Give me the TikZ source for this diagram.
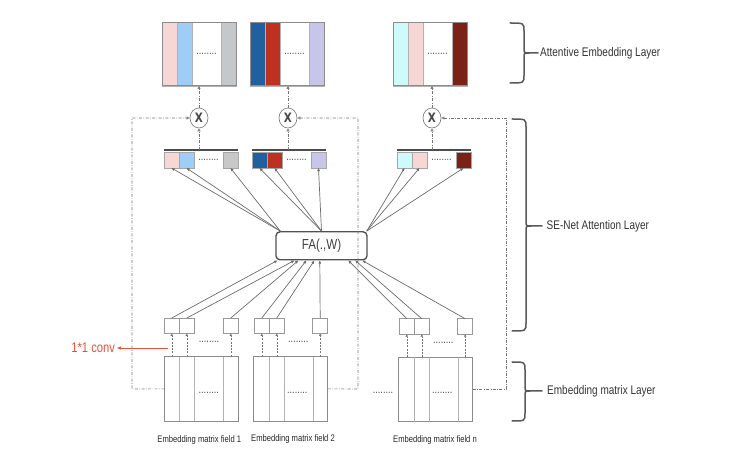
\documentclass[tikz,border=0pt]{standalone}
\usepackage{fontspec}
\setmainfont{Liberation Sans}[FakeStretch=0.8]
\newfontfamily\xmark{DejaVu Sans}[FakeStretch=0.8]
\usetikzlibrary{arrows.meta,calc,shapes.geometric}
\definecolor{pinkA}{RGB}{247,214,214}
\definecolor{blueL}{RGB}{158,206,247}
\definecolor{grayS}{RGB}{197,200,202}
\definecolor{blueD}{RGB}{33,96,158}
\definecolor{redM}{RGB}{190,48,32}
\definecolor{lav}{RGB}{200,197,234}
\definecolor{cyanL}{RGB}{207,250,252}
\definecolor{redD}{RGB}{122,34,24}
\definecolor{grayM}{RGB}{200,200,200}
\definecolor{convred}{RGB}{232,80,60}
\begin{document}
\begin{tikzpicture}[x=1pt,y=-1pt,
  stripe/.style={draw=black!30, line width=0.5pt, minimum width=15pt, minimum height=63.5pt, inner sep=0pt, outer sep=0pt},
  wstripe/.style={stripe, minimum width=29pt},
  frame/.style={draw=black!45, line width=1pt},
  mbox/.style={draw=black!35, line width=0.6pt, minimum width=15pt, minimum height=16pt, inner sep=0pt, outer sep=0pt},
  cbox/.style={draw=black!40, fill=white, line width=0.6pt, minimum width=15pt, minimum height=15.5pt, inner sep=0pt, outer sep=0pt},
  ebox/.style={draw=black!45, line width=0.8pt, minimum width=74pt, minimum height=64.3pt, inner sep=0pt, outer sep=0pt},
  esep/.style={draw=black!30, line width=0.6pt},
  ddot/.style={draw=black!55, line width=0.6pt, dash pattern=on 3pt off 1.5pt on 0.6pt off 1.5pt},
  dda/.style={ddot, -{Triangle[open,length=3pt,width=3pt]}},
  dsh/.style={draw=black!55, line width=0.6pt, dash pattern=on 2pt off 1.3pt, -{Triangle[length=2.5pt,width=2.5pt]}},
  conn/.style={draw=black!58, line width=0.7pt, -{Triangle[length=3.2pt,width=2.6pt]}},
  mult/.style={ellipse, draw=black!50, line width=0.7pt, minimum width=18pt, minimum height=20pt, inner sep=0pt, font=\xmark\bfseries\fontsize{13}{13}\selectfont, text=black!72},
  barline/.style={draw=black!70, line width=1.4pt},
  bracepath/.style={draw=black!65, line width=1.5pt, line cap=round},
  layertext/.style={anchor=west, inner sep=0pt, font=\fontsize{12.5}{12.5}\selectfont, text=black!80},
  fieldtext/.style={inner sep=0pt, font=\fontsize{9.5}{9.5}\selectfont, text=black!85},
  dots/.style={inner sep=0pt, font=\fontsize{11.5}{11.5}\selectfont, text=black!72}
]
\useasboundingbox (0,0) rectangle (750,470);

% ---------- top attentive embedding boxes ----------
\node[stripe, fill=pinkA] (t1a) at (169.5,54.25) {};
\node[stripe, fill=blueL] (t1b) at (184.5,54.25) {};
\node[wstripe, fill=white] (t1c) at (206.5,54.25) {};
\node[stripe, fill=grayS] (t1d) at (228.5,54.25) {};
\draw[frame] (t1a.north west) rectangle (t1d.south east);
\node[dots] (t1dots) at (t1c.center) {........};

\node[stripe, fill=blueD] (t2a) at (257.5,54.25) {};
\node[stripe, fill=redM] (t2b) at (272.5,54.25) {};
\node[wstripe, fill=white] (t2c) at (294.5,54.25) {};
\node[stripe, fill=lav] (t2d) at (316.5,54.25) {};
\draw[frame] (t2a.north west) rectangle (t2d.south east);
\node[dots] (t2dots) at (t2c.center) {........};

\node[stripe, fill=cyanL] (t3a) at (400.5,54.25) {};
\node[stripe, fill=pinkA] (t3b) at (415.5,54.25) {};
\node[wstripe, fill=white] (t3c) at (437.5,54.25) {};
\node[stripe, fill=redD] (t3d) at (459.5,54.25) {};
\draw[frame] (t3a.north west) rectangle (t3d.south east);
\node[dots] (t3dots) at (t3c.center) {........};

% ---------- multiply circles ----------
\node[mult] (x1) at (199,118) {X};
\node[mult] (x2) at (288,118) {X};
\node[mult] (x3) at (432,118) {X};

\draw[dda] (x1.north) -- (x1.north |- t1c.south);
\draw[dda] (x2.north) -- (x2.north |- t2c.south);
\draw[dda] (x3.north) -- (x3.north |- t3c.south);

% ---------- middle (attention weights) ----------
\node[mbox, fill=pinkA] (m1a) at (171.5,160) {};
\node[mbox, fill=blueL] (m1b) at (186.5,160) {};
\node[mbox, fill=grayM] (m1c) at (230.5,160) {};
\node[dots] (m1dots) at (208.5,160) {........};
\coordinate (b1l) at (164,150); \coordinate (b1r) at (238,150);
\draw[barline] (b1l) -- (b1r);

\node[mbox, fill=blueD] (m2a) at (259.5,160) {};
\node[mbox, fill=redM] (m2b) at (274.5,160) {};
\node[mbox, fill=lav] (m2c) at (318.5,160) {};
\node[dots] (m2dots) at (296.5,160) {........};
\coordinate (b2l) at (252,150); \coordinate (b2r) at (326,150);
\draw[barline] (b2l) -- (b2r);

\node[mbox, fill=cyanL] (m3a) at (404.5,160) {};
\node[mbox, fill=pinkA] (m3b) at (419.5,160) {};
\node[mbox, fill=redD] (m3c) at (463.5,160) {};
\node[dots] (m3dots) at (441.5,160) {........};
\coordinate (b3l) at (397,150); \coordinate (b3r) at (471,150);
\draw[barline] (b3l) -- (b3r);

\draw[dda] (x1.south |- b1l) -- (x1.south);
\draw[dda] (x2.south |- b2l) -- (x2.south);
\draw[dda] (x3.south |- b3l) -- (x3.south);

% ---------- FA node ----------
\node[draw=black!68, line width=1.4pt, rounded corners=4pt, minimum width=91pt, minimum height=28pt, inner sep=0pt,
      font=\fontsize{14.5}{14.5}\selectfont, text=black!75] (FA) at (321.5,245.8) {FA(.,W)};

\coordinate (s1) at ($(FA.north west)+(5,0)$);
\coordinate (s2) at (FA.north);
\coordinate (s3) at ($(FA.north east)+(-1,0)$);
\draw[conn] (s1) -- (m1a.south);
\draw[conn] (s1) -- (m1b.south);
\draw[conn] (s1) -- (m1c.south);
\draw[conn] (s2) -- (m2a.south);
\draw[conn] (s2) -- (m2b.south);
\draw[conn] (s2) -- (m2c.south);
\draw[conn] (s3) -- (m3a.south);
\draw[conn] (s3) -- (m3b.south);
\draw[conn] (s3) -- (m3c.south);

% ---------- conv boxes ----------
\node[cbox] (c1a) at (171.8,325.75) {};
\node[cbox] (c1b) at (186.8,325.75) {};
\node[cbox] (c1c) at (230.8,325.75) {};
\node[dots] (c1dots) at (209,341.7) {........};
\node[cbox] (c2a) at (261.8,325.75) {};
\node[cbox] (c2b) at (276.8,325.75) {};
\node[cbox] (c2c) at (320.2,325.75) {};
\node[dots] (c2dots) at (298.3,341.7) {........};
\node[cbox] (c3a) at (406.8,326.5) {};
\node[cbox] (c3b) at (421.8,326.5) {};
\node[cbox] (c3c) at (465.2,326.5) {};
\node[dots] (c3dots) at (443.3,342.5) {........};

\draw[conn] (c1a.north) -- ($(FA.south west)+(2,0)$);
\draw[conn] (c1b.north) -- ($(FA.south west)+(19,0)$);
\draw[conn] (c1c.north) -- ($(FA.south west)+(23,0)$);
\draw[conn] (c2a.north) -- ($(FA.south west)+(31,0)$);
\draw[conn] (c2b.north) -- ($(FA.south west)+(39,0)$);
\draw[conn] (c2c.north) -- ($(FA.south west)+(44.5,0)$);
\draw[conn] (c3a.north) -- ($(FA.south west)+(73,0)$);
\draw[conn] (c3b.north) -- ($(FA.south west)+(80,0)$);
\draw[conn] (c3c.north) -- ($(FA.south west)+(87,0)$);

% ---------- embedding matrices ----------
\node[ebox] (E1) at (201.3,388.9) {};
\node[ebox] (E2) at (290.8,388.9) {};
\node[ebox] (E3) at (435.8,389.5) {};
\foreach \e in {E1,E2,E3}{
  \foreach \d in {15,30,59}{
    \draw[esep] ($(\e.north west)+(\d,0)$) -- ($(\e.south west)+(\d,0)$);
  }
}
\node[dots] (e1dots) at (208.8,392.7) {........};
\node[dots] (e2dots) at (297.3,392.7) {........};
\node[dots] (e3dots) at (442.3,393.3) {........};
\node[dots] (e23dots) at (383,392.7) {........};

\draw[dsh] (c1a.south |- E1.north) -- (c1a.south);
\draw[dsh] (c1b.south |- E1.north) -- (c1b.south);
\draw[dsh] (c1c.south |- E1.north) -- (c1c.south);
\draw[dsh] (c2a.south |- E2.north) -- (c2a.south);
\draw[dsh] (c2b.south |- E2.north) -- (c2b.south);
\draw[dsh] (c2c.south |- E2.north) -- (c2c.south);
\draw[dsh] (c3a.south |- E3.north) -- (c3a.south);
\draw[dsh] (c3b.south |- E3.north) -- (c3b.south);
\draw[dsh] (c3c.south |- E3.north) -- (c3c.south);

% ---------- dash-dot loops ----------
\coordinate (L1a) at (132,389); \coordinate (L1b) at (132,118);
\coordinate (L2a) at (358,389); \coordinate (L2b) at (358,118);
\coordinate (L3a) at (506,389); \coordinate (L3b) at (506,118);
\draw[dda] (E1.west) -- (L1a) -- (L1b) -- (x1.west);
\draw[dda] (E2.east) -- (L2a) -- (L2b) -- (x2.east);
\draw[dda] (E3.east |- L3a) -- (L3a) -- (L3b) -- (x3.east);

% ---------- field labels ----------
\node[fieldtext] (f1) at (199.3,440.5) {Embedding matrix field 1};
\node[fieldtext] (f2) at (293,439) {Embedding matrix field 2};
\node[fieldtext] (f3) at (435,440.5) {Embedding matrix field n};

% ---------- 1*1 conv ----------
\node[anchor=east, inner sep=0pt, outer sep=2pt, font=\fontsize{14}{14}\selectfont, text=convred] (conv) at (117,348) {1*1 conv};
\coordinate (rs) at (168,348);
\draw[convred, line width=0.9pt, -{Triangle[length=4pt,width=3pt]}] (rs) -- (conv.east);

% ---------- braces ----------
\draw[bracepath] (510,23) .. controls (524,23) .. (524,31) -- (524,48)
  .. controls (524,53) .. (529,53) -- (538,53);
\draw[bracepath] (529,53) .. controls (524,53) .. (524,58) -- (524,75)
  .. controls (524,83) .. (510,83);
\node[layertext] (lay1) at (540,53) {Attentive Embedding Layer};

\draw[bracepath] (512,119) .. controls (526,119) .. (526,127) -- (526,221)
  .. controls (526,226) .. (531,226) -- (542,226);
\draw[bracepath] (531,226) .. controls (526,226) .. (526,231) -- (526,323)
  .. controls (526,331) .. (512,331);
\node[layertext] (lay2) at (546.5,226) {SE-Net Attention Layer};

\draw[bracepath] (512,362) .. controls (525,362) .. (525,370) -- (525,386)
  .. controls (525,391) .. (530,391) -- (542,391);
\draw[bracepath] (530,391) .. controls (525,391) .. (525,396) -- (525,413)
  .. controls (525,421) .. (512,421);
\node[layertext] (lay3) at (547,391) {Embedding matrix Layer};

\end{tikzpicture}
\end{document}
